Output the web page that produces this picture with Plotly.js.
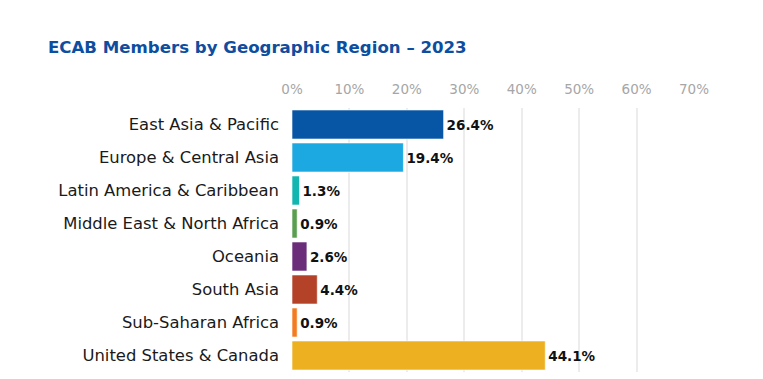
<!DOCTYPE html>
<html><head><meta charset="utf-8">
<script src="https://cdn.plot.ly/plotly-3.0.1.min.js"></script>
<style>body{margin:0;background:#fff}#c{width:763px;height:379px}</style>
</head><body><div id="c"></div>
<script>
const regions = ["East Asia & Pacific","Europe & Central Asia","Latin America & Caribbean","Middle East & North Africa","Oceania","South Asia","Sub-Saharan Africa","United States & Canada"];
const shares = [26.4, 19.4, 1.3, 0.9, 2.6, 4.4, 0.9, 44.1];
const labels = ["26.4%","19.4%","1.3%","0.9%","2.6%","4.4%","0.9%","44.1%"];
const colors = ["#0755A5","#1CA8E0","#12B5B0","#5A9E4F","#6B2D7A","#B44228","#F47B20","#EDB021"];
const tickVals = [0,10,20,30,40,50,60,70];
const tickText = ["0%","10%","20%","30%","40%","50%","60%","70%"];

const font = "DejaVu Sans, sans-serif";
Plotly.newPlot("c", [{
  type: "bar", orientation: "h",
  y: regions, x: shares, text: labels,
  textposition: "outside", cliponaxis: false,
  textfont: {family: font, size: 13.5, color: "#111", weight: 700},
  marker: {color: colors, line: {color: "rgba(255,255,255,0.6)", width: 1}},
  hoverinfo: "none"
}], {
  width: 763, height: 379,
  margin: {l: 292, r: 69, t: 108, b: 7},
  paper_bgcolor: "#fff", plot_bgcolor: "#fff",
  title: {text: "<b>ECAB Members by Geographic Region – 2023</b>", x: 48/763, xref: "container", xanchor: "left", y: 1, yref: "container", yanchor: "top", pad: {t: 41},
          font: {family: font, size: 16.6, color: "#0D4EA0"}},
  bargap: 0.12,
  showlegend: false,
  xaxis: {side: "top", range: [0, 70], tickvals: tickVals, ticktext: tickText,
          showgrid: true, gridcolor: "#ececec", gridwidth: 2, zeroline: false, showline: false,
          tickfont: {family: font, size: 13.5, color: "#a6a6a6"}, ticks: "", ticklabelstandoff: 10, fixedrange: true},
  yaxis: {autorange: "reversed", ticks: "", ticklen: 0, showline: false, showgrid: false,
          tickfont: {family: font, size: 16.4, color: "#1a1a1a"}, ticklabelstandoff: 12}
}, {displayModeBar: false, staticPlot: true});
</script></body></html>
